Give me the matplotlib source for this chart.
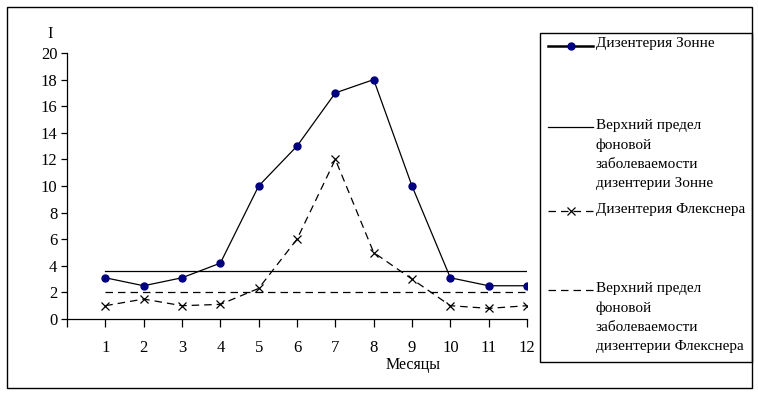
import matplotlib
matplotlib.use("Agg")
import matplotlib.pyplot as plt
from matplotlib.lines import Line2D
from matplotlib.patches import Rectangle

months = [1, 2, 3, 4, 5, 6, 7, 8, 9, 10, 11, 12]
month_labels = ["1", "2", "3", "4", "5", "6", "7", "8", "9", "10", "11", "12"]
sonne = [3.1, 2.5, 3.1, 4.2, 10, 13, 17, 18, 10, 3.1, 2.5, 2.5]
sonne_limit = [3.6] * 12
flexner = [1.0, 1.5, 1.0, 1.1, 2.3, 6, 12, 5, 3.0, 1.0, 0.8, 1.0]
flexner_limit = [2.0] * 12
y_ticks = [0, 2, 4, 6, 8, 10, 12, 14, 16, 18, 20]
labels = ["Дизентерия Зонне",
          "Верхний предел\nфоновой\nзаболеваемости\nдизентерии Зонне",
          "Дизентерия Флекснера",
          "Верхний предел\nфоновой\nзаболеваемости\nдизентерии Флекснера"]

plt.rcParams['font.family'] = ['Liberation Serif', 'DejaVu Serif']
W, H = 758, 393
fig = plt.figure(figsize=(W / 100, H / 100), dpi=100)

ax = fig.add_axes([67 / W, 1 - 319 / H, (527 - 67) / W, (319 - 53) / H])
ax.plot(months, sonne, color='black', lw=0.9, marker='o', ms=5,
        mfc='#000080', mec='#000080', zorder=3)
ax.plot(months, sonne_limit, color='black', lw=0.9, zorder=2)
ax.plot(months, flexner, color='black', lw=0.9, ls=(0, (6, 4)), marker='x',
        ms=6, mew=0.9, zorder=3)
ax.plot(months, flexner_limit, color='black', lw=0.9, ls=(0, (6, 4)), zorder=2)

ax.set_xlim(0, 12)
ax.set_ylim(0, 20)
ax.set_xticks([0] + months)
ax.set_xticklabels([""] + month_labels)
ax.set_yticks(y_ticks)
ax.tick_params(axis='x', direction='out', length=6, width=0.9, pad=9, labelsize=12)
ax.tick_params(axis='y', direction='out', length=4, width=0.9, pad=3, labelsize=12)
for s in ['top', 'right']:
    ax.spines[s].set_visible(False)
for s in ['left', 'bottom']:
    ax.spines[s].set_linewidth(0.9)
ax.set_facecolor('none')

# overlay for frame, legend and extra text (pixel coordinates)
ov = fig.add_axes([0, 0, 1, 1], zorder=-1)
ov.set_xlim(0, W)
ov.set_ylim(H, 0)
ov.axis('off')
ov.add_patch(Rectangle((6.5, 6.5), 745, 381.5, fill=False, lw=1, ec='black'))

lg = fig.add_axes([0, 0, 1, 1], zorder=5)
lg.set_xlim(0, W)
lg.set_ylim(H, 0)
lg.axis('off')
lg.patch.set_alpha(0)
lg.add_patch(Rectangle((539.5, 32.5), 212, 329, fill=False, lw=1, ec='black'))

hx0, hx1, tx = 548, 593, 596
ys = [45.5, 127, 210.5, 290]
lg.add_line(Line2D([hx0, hx1], [ys[0], ys[0]], color='black', lw=1.8))
lg.add_line(Line2D([(hx0 + hx1) / 2], [ys[0]], marker='o', ms=5,
                   mfc='#000080', mec='#000080', ls='none'))
lg.add_line(Line2D([hx0, hx1], [ys[1], ys[1]], color='black', lw=0.9))
lg.add_line(Line2D([hx0, hx1], [ys[2], ys[2]], color='black', lw=0.9, ls=(0, (6, 4))))
lg.add_line(Line2D([(hx0 + hx1) / 2], [ys[2]], marker='x', ms=6, mew=0.9,
                   color='black', ls='none'))
lg.add_line(Line2D([hx0, hx1], [ys[3], ys[3]], color='black', lw=0.9, ls=(0, (6, 4))))
for y, t in zip(ys, labels):
    lg.text(tx, y - 8, t, fontsize=11, va='top', ha='left', linespacing=1.6)

lg.text(50, 34, "I", fontsize=12, ha='center', va='center')
lg.text(413, 365, "Месяцы", fontsize=11.5, ha='center', va='center')

fig.savefig("out.png", dpi=100)
